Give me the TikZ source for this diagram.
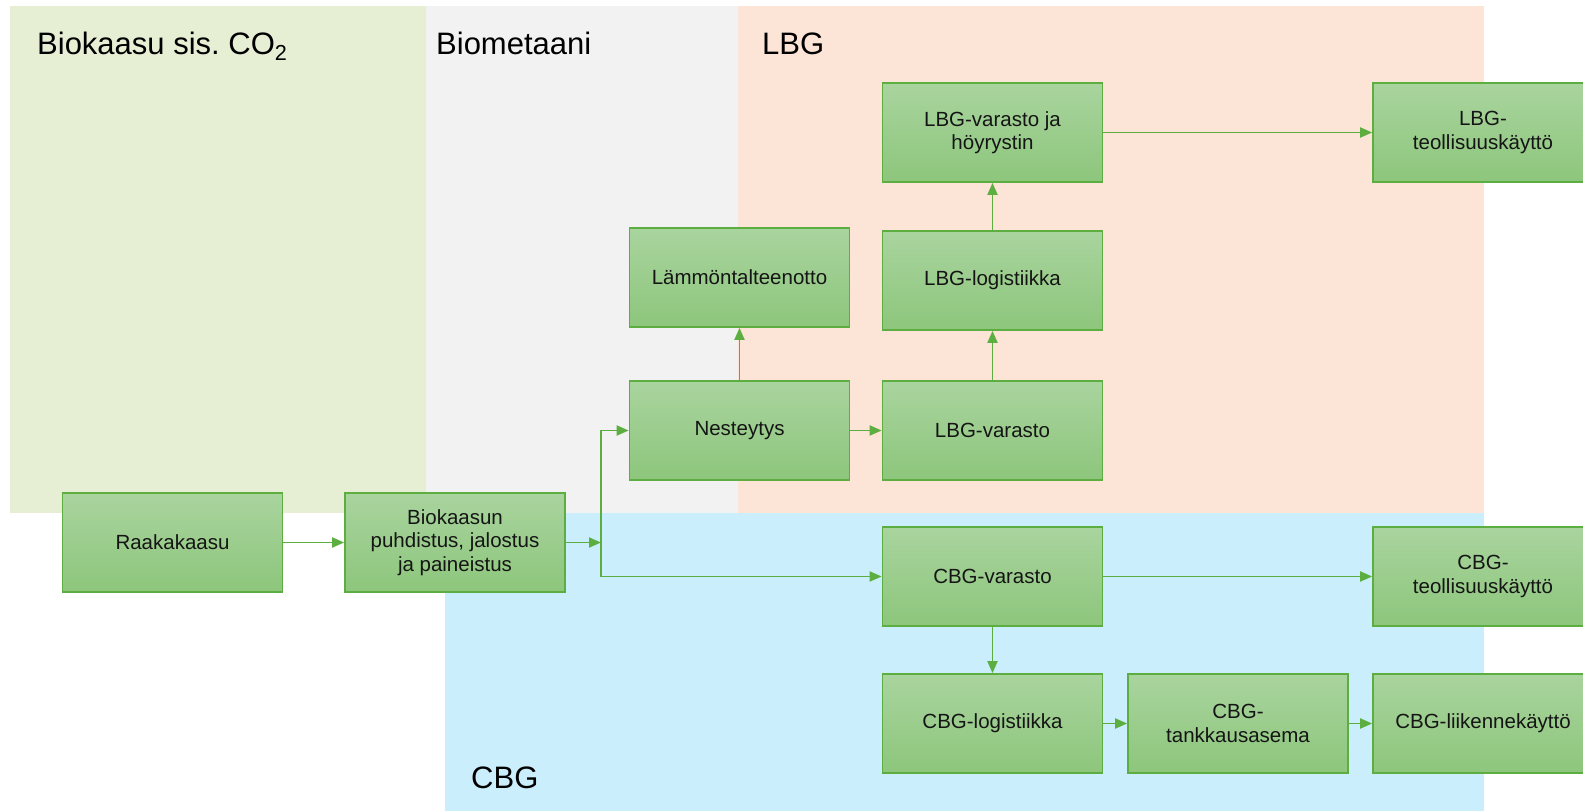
\documentclass[tikz,border=0pt]{standalone}
\usepackage{fontspec}
\setmainfont{Liberation Sans}
\usetikzlibrary{arrows.meta}
\frenchspacing

\definecolor{boxtop}{HTML}{A9D49E}
\definecolor{boxbot}{HTML}{8DC67C}
\definecolor{boxline}{HTML}{5DAE40}
\definecolor{regco}{HTML}{E6EFD4}
\definecolor{regbio}{HTML}{F2F2F2}
\definecolor{reglbg}{HTML}{FCE4D6}
\definecolor{regcbg}{HTML}{CAEEFB}
\definecolor{txt}{HTML}{151515}

\tikzset{
  procbox/.style={draw=boxline, line width=1.7pt, top color=boxtop, bottom color=boxbot,
    minimum width=220pt, minimum height=99pt, inner sep=0pt, align=center, text=txt,
    font=\fontsize{20.5}{23.5}\selectfont},
  flow/.style={draw=boxline, line width=1.9pt, -{Triangle[length=12pt,width=10pt]}},
  regionlabel/.style={anchor=base west, inner sep=0pt, font=\fontsize{31}{36}\selectfont}
}

\begin{document}
\begin{tikzpicture}[x=1pt, y=-1pt]
    \useasboundingbox (0,0) rectangle (1583,811);
    % regions
    \fill[regco] (10,6) rectangle (426,512.5);
    \fill[regbio] (426,6) rectangle (738,512.5);
    \fill[reglbg] (738,6) rectangle (1484,512.5);
    \fill[regcbg] (445,512.5) rectangle (1484,811);
    \node[regionlabel] (lblco) at (37,54) {Biokaasu sis. CO\textsubscript{2}};
    \node[regionlabel] (lblbio) at (436,54) {Biometaani};
    \node[regionlabel] (lbllbg) at (762,54) {LBG};
    \node[regionlabel] (lblcbg) at (471,788) {CBG};

    % process boxes
    \node[procbox] (raaka) at (172.5,542.5) {Raakakaasu};
    \node[procbox] (puhd) at (455,542.5) {Biokaasun\\puhdistus, jalostus\\ja paineistus};
    \node[procbox] (lampo) at (739.5,277.5) {Lämmöntalteenotto};
    \node[procbox] (nest) at (739.5,430.5) {Nesteytys};
    \node[procbox] (lbgvh) at (992.5,132.5) {LBG-varasto ja\\höyrystin};
    \node[procbox] (lbglog) at (992.5,280.5) {LBG-logistiikka};
    \node[procbox] (lbgvar) at (992.5,430.5) {LBG-varasto};
    \node[procbox] (lbgteol) at (1483,132.5) {LBG-\\teollisuuskäyttö};
    \node[procbox] (cbgvar) at (992.5,576.5) {CBG-varasto};
    \node[procbox] (cbgteol) at (1483,576.5) {CBG-\\teollisuuskäyttö};
    \node[procbox] (cbglog) at (992.5,723.5) {CBG-logistiikka};
    \node[procbox] (cbgtank) at (1238,723.5) {CBG-\\tankkausasema};
    \node[procbox] (cbgliik) at (1483,723.5) {CBG-liikennekäyttö};

    % connectors
    \coordinate (jn) at (601,542.5);
    \draw[flow] (raaka) -- (puhd);
    \draw[flow] (puhd) -- (jn);
    \draw[flow] (jn) |- (nest);
    \draw[flow] (jn) |- (cbgvar);
    \draw[flow] (nest) -- (lampo);
    \draw[flow] (nest) -- (lbgvar);
    \draw[flow] (lbgvar) -- (lbglog);
    \draw[flow] (lbglog) -- (lbgvh);
    \draw[flow] (lbgvh) -- (lbgteol);
    \draw[flow] (cbgvar) -- (cbgteol);
    \draw[flow] (cbgvar) -- (cbglog);
    \draw[flow] (cbglog) -- (cbgtank);
    \draw[flow] (cbgtank) -- (cbgliik);
\end{tikzpicture}
\end{document}
